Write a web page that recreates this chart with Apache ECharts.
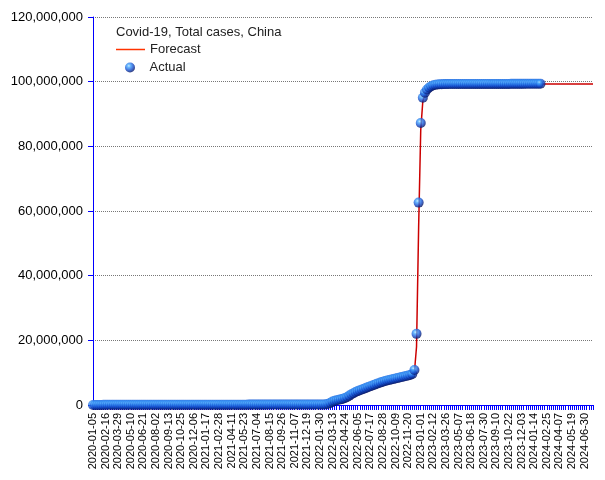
<!DOCTYPE html>
<html><head><meta charset="utf-8">
<script src="https://cdn.jsdelivr.net/npm/echarts@6/dist/echarts.min.js"></script>
<style>html,body{margin:0;padding:0;background:#fff}#c{width:605px;height:480px}</style>
</head><body><div id="c"></div>
<script>
// Weekly categories: first week and number of weeks on the axis
const startDate = '2020-01-05';
const weekCount = 239; // 2020-01-05 .. 2024-07-28
const UNIT = 1e6; // values below are in millions

// Actual total cases (millions), one value per week from 2020-01-05
const actual2020 = [
  0, 0.00005, 0.0003, 0.002, 0.017, 0.040, 0.069, 0.077, 0.080, 0.081, 0.081, 0.082, 0.082,
  0.083, 0.083, 0.084, 0.084, 0.084, 0.084, 0.084, 0.084, 0.084, 0.085, 0.085, 0.085, 0.085,
  0.085, 0.086, 0.087, 0.088, 0.089, 0.090, 0.090, 0.090, 0.091, 0.091, 0.091, 0.091, 0.091,
  0.091, 0.092, 0.092, 0.092, 0.093, 0.093, 0.093, 0.094, 0.094, 0.095, 0.095, 0.096, 0.097
];
const actual2021 = [
  0.098, 0.099, 0.100, 0.101, 0.102, 0.102, 0.103, 0.103, 0.104, 0.104, 0.105, 0.105, 0.106,
  0.106, 0.107, 0.107, 0.108, 0.108, 0.109, 0.110, 0.111, 0.113, 0.116, 0.119, 0.120, 0.121,
  0.122, 0.123, 0.124, 0.125, 0.126, 0.127, 0.127, 0.128, 0.128, 0.128, 0.129, 0.129, 0.129,
  0.130, 0.130, 0.130, 0.131, 0.131, 0.132, 0.132, 0.133, 0.133, 0.134, 0.134, 0.135, 0.136
];
const actual2022 = [
  0.137, 0.138, 0.140, 0.141, 0.143, 0.150, 0.165, 0.210, 0.380, 0.700, 1.050, 1.30, 1.45,
  1.60, 1.75, 1.95, 2.20, 2.50, 2.90, 3.30, 3.65, 4.00, 4.30, 4.55, 4.80, 5.05,
  5.30, 5.55, 5.80, 6.05, 6.30, 6.55, 6.75, 7.00, 7.20, 7.40, 7.60, 7.75, 7.90,
  8.05, 8.20, 8.35, 8.50, 8.65, 8.80, 8.95, 9.10, 9.30, 9.60, 10.8, 22.0, 62.6
];
const actual2023 = [
  87.2, 95.0, 96.6, 97.6, 98.2, 98.6, 98.9, 99.05, 99.15, 99.2, 99.22, 99.24, 99.25,
  99.26, 99.26, 99.27, 99.27, 99.27, 99.28, 99.28, 99.28, 99.28, 99.29, 99.29, 99.29, 99.29,
  99.29, 99.29, 99.30, 99.30, 99.30, 99.30, 99.30, 99.30, 99.30, 99.31, 99.31, 99.31, 99.31,
  99.31, 99.31, 99.31, 99.31, 99.32, 99.32, 99.32, 99.32, 99.32, 99.32, 99.32, 99.33, 99.33
];
const actual2024 = [99.33, 99.33, 99.33, 99.34, 99.34, 99.34];

// Forecast total cases (millions), one value per week from 2020-01-05
const forecast2020 = actual2020.slice();
const forecast2021 = [
  0.098, 0.099, 0.100, 0.101, 0.102, 0.102, 0.103, 0.103, 0.104, 0.104, 0.105, 0.105, 0.106,
  0.106, 0.107, 0.107, 0.108, 0.108, 0.109, 0.110, 0.111, 0.113, 0.116, 0.119, 0.120, 0.121,
  0.122, 0.123, 0.124, 0.125, 0.126, 0.127, 0.127, 0.128, 0.128, 0.128, 0.129, 0.129, 0.129,
  0.13, 0.45, 0.45, 0.46, 0.46, 0.47, 0.47, 0.48, 0.48, 0.48, 0.49, 0.49, 0.50
];
const forecast2022 = [
  0.55, 0.70, 0.70, 0.70, 0.70, 0.72, 0.75, 0.80, 0.90, 1.10, 1.50, 1.70, 1.85,
  1.95, 2.05, 2.20, 2.40, 2.70, 3.05, 3.40, 3.70, 4.00, 4.25, 4.50, 4.75, 5.00,
  5.20, 5.40, 5.60, 5.85, 6.10, 6.35, 6.55, 6.80, 7.00, 7.20, 7.40, 7.55, 7.70,
  7.85, 8.00, 8.15, 8.30, 8.45, 8.60, 8.75, 8.90, 9.10, 9.40, 10.2, 18.0, 55.0
];
const forecast2023 = [
  85.0, 94.0, 96.0, 97.0, 97.6, 98.0, 98.3, 98.5, 98.6, 98.7, 98.75, 98.8, 98.8,
  98.85, 98.85, 98.9, 98.9, 98.9, 98.9, 98.95, 98.95, 98.95, 98.95, 99.0, 99.0, 99.0,
  99.0, 99.0, 99.0, 99.0, 99.3, 99.3, 99.3, 99.3, 99.3, 99.3, 99.3, 99.3, 99.3,
  99.3, 99.3, 99.3, 99.3, 99.3, 99.3, 99.3, 99.3, 99.3, 99.3, 99.3, 99.3, 99.3
];
const forecast2024 = [
  99.3, 99.3, 99.3, 99.3, 99.3, 99.3, 99.3, 99.3, 99.3, 99.3, 99.3, 99.3, 99.3,
  99.3, 99.3, 99.3, 99.3, 99.3, 99.3, 99.3, 99.3, 99.3, 99.3, 99.3, 99.3, 99.3,
  99.3, 99.3, 99.3, 99.3, 99.3
];

const titleText = 'Covid-19, Total cases, China';
const seriesNames = ['Forecast', 'Actual'];

// build categories
const categories = [];
{
  const d0 = new Date(startDate + 'T00:00:00Z');
  for (let i = 0; i < weekCount; i++) {
    const d = new Date(d0.getTime() + i * 7 * 86400000);
    categories.push(d.toISOString().slice(0, 10));
  }
}
const actual = [].concat(actual2020, actual2021, actual2022, actual2023, actual2024).map(v => v * UNIT);
const forecast = [].concat(forecast2020, forecast2021, forecast2022, forecast2023, forecast2024).map(v => v * UNIT);

const FONT = '"Liberation Sans", Arial, sans-serif';
const BLUE = '#0000ff';
const sphere = {
  type: 'radial', x: 0.38, y: 0.33, r: 0.72,
  colorStops: [
    { offset: 0, color: '#b8e4ff' },
    { offset: 0.22, color: '#46a8ff' },
    { offset: 0.6, color: '#1550d0' },
    { offset: 1, color: '#000850' }
  ]
};
const legendText = { fontFamily: FONT, fontSize: 13, color: '#222' };

const chart = echarts.init(document.getElementById('c'), null, { renderer: 'canvas' });
chart.setOption({
  animation: false,
  backgroundColor: '#ffffff',
  title: {
    text: titleText, left: 111, top: 21,
    textStyle: { fontFamily: FONT, fontSize: 13, fontWeight: 'normal', color: '#222' }
  },
  legend: [
    {
      orient: 'vertical', left: 116, top: 43, padding: 0, itemWidth: 29, itemHeight: 1.5,
      textStyle: legendText,
      data: [{ name: seriesNames[0], icon: 'rect', itemStyle: { color: '#ff3300' } }]
    },
    {
      orient: 'vertical', left: 125, top: 61, padding: 0, itemWidth: 29, itemHeight: 10,
      textStyle: legendText,
      data: [{ name: seriesNames[1], icon: 'circle' }]
    }
  ],
  grid: { left: 93, right: 12, top: 17, bottom: 75, containLabel: false },
  xAxis: {
    type: 'category', data: categories, boundaryGap: false,
    axisLine: { lineStyle: { color: BLUE, width: 1 } },
    axisTick: { show: true, interval: 0, length: 5, lineStyle: { color: BLUE, width: 1 } },
    axisLabel: {
      interval: 5, rotate: 90, margin: 8, color: '#000',
      fontFamily: FONT, fontSize: 11
    },
    splitLine: { show: false }
  },
  yAxis: {
    type: 'value', min: 0, max: 120000000, interval: 20000000,
    axisLine: { show: true, lineStyle: { color: BLUE, width: 1 } },
    axisTick: { show: true, length: 5, lineStyle: { color: BLUE } },
    axisLabel: {
      color: '#000', fontFamily: FONT, fontSize: 13, margin: 10,
      formatter: v => v.toLocaleString('en-US')
    },
    splitLine: { show: true, lineStyle: { color: '#777', type: 'dotted', width: 1 } }
  },
  series: [
    {
      name: seriesNames[0], type: 'line', data: forecast, showSymbol: false,
      symbol: 'none', lineStyle: { color: '#cc0000', width: 1.5 }, itemStyle: { color: '#ff3300' },
      z: 2
    },
    {
      name: seriesNames[1], type: 'scatter', data: actual, symbol: 'circle', symbolSize: 10,
      itemStyle: { color: sphere }, z: 3
    }
  ]
});
</script></body></html>
